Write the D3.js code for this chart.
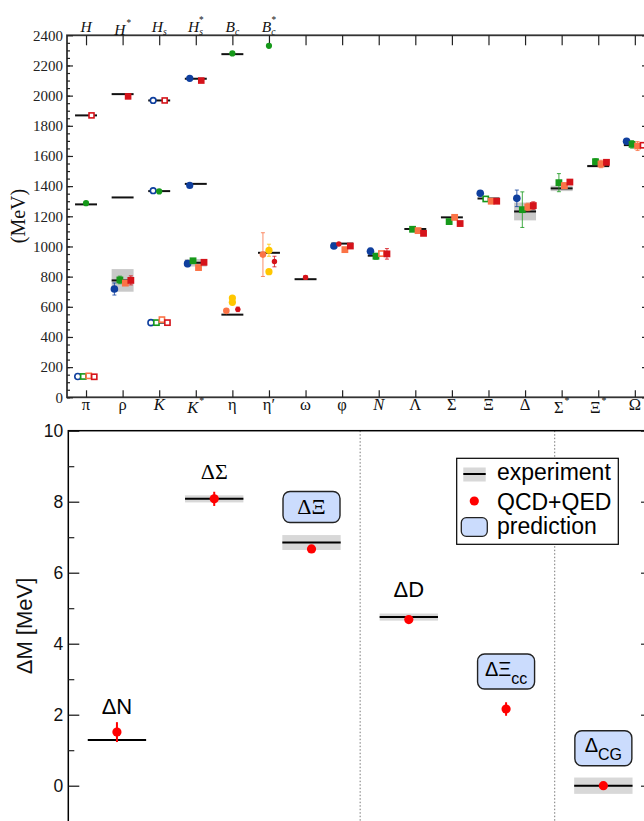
<!DOCTYPE html>
<html>
<head>
<meta charset="utf-8">
<script src="https://cdn.jsdelivr.net/npm/d3@7"></script>
<style>
body { margin: 0; background: #fff; }
svg { display: block; }
</style>
</head>
<body>
<svg id="chart" width="644" height="821"></svg>
<script>
// ---------- top panel: hadron spectrum ----------
const lightLabels = ["π", "ρ", "K", "K*", "η", "η′", "ω", "φ", "N", "Λ", "Σ", "Ξ", "Δ", "Σ*", "Ξ*", "Ω"];
const heavyLabels = ["H", "H*", "Hs", "Hs*", "Bc", "Bc*"];
const massTicks = d3.range(0, 2401, 200);

// experimental masses (MeV) and half widths shown as grey bands
const expMass = [138, 775, 495, 892, 548, 958, 783, 1019, 939, 1116, 1193, 1318, 1232, 1385, 1533, 1672];
const expWidth = [0, 75, 0, 25, 0, 0, 0, 0, 0, 0, 0, 0, 59, 18, 8, 0];
// heavy mesons (B-type shifted down by 4000 MeV)
const heavyExp = [[1869, 1279], [2010, 1325], [1968, 1367], [2112, 1415], [2275], []];

// lattice results: [category, mass, error, input]
const blueData = [[0, 138, 0, 1], [1, 718, 40], [2, 495, 0, 1], [3, 886, 20], [7, 1003, 12], [8, 968, 22], [11, 1353, 18], [12, 1319, 55], [15, 1697, 10]];
const greenData = [[0, 138, 0, 1], [1, 778, 25], [2, 495, 0, 1], [3, 905, 0], [8, 935, 20], [9, 1114, 15], [10, 1165, 15], [11, 1315, 0, 1], [12, 1244, 118], [13, 1423, 60], [14, 1562, 20], [15, 1677, 25]];
const orangeData = [[0, 142, 0, 1], [1, 757, 0], [2, 515, 0, 1], [3, 860, 10], [7, 979, 12], [8, 953, 0, 1], [9, 1105, 15], [10, 1193, 15], [11, 1300, 15], [12, 1262, 25], [13, 1403, 20], [14, 1547, 25], [15, 1666, 30]];
const redData = [[0, 136, 0, 1], [1, 775, 30], [2, 495, 0, 1], [3, 895, 0], [7, 1003, 0], [8, 951, 35], [9, 1087, 10], [10, 1152, 0], [11, 1300, 0], [12, 1271, 25], [13, 1427, 15], [14, 1558, 0], [15, 1671, 0, 1]];
// small red points: [category, mass, error, input, column]
const redSmallData = [[4, 583, 15, 0, 1], [5, 900, 35, 0, 1], [6, 795, 12, 0, 0], [7, 1016, 0, 0, -0.6]];
const yellowData = [[4, 658, 0], [4, 630, 0], [5, 975, 40], [5, 833, 0]];
const orangeEtaData = [[4, 573, 8], [5, 946, 145]];
const heavyBlue = [[2, 1968, 0, 1], [2, 1370, 0, 1], [3, 2115, 0], [3, 1405, 0]];
const heavyGreen = [[0, 1287, 10], [2, 1365, 0], [4, 2280, 0], [5, 2330, 0]];
const heavyRed = [[0, 1869, 0, 1], [1, 1995, 0], [2, 1968, 0, 1], [3, 2100, 0]];

// ---------- bottom panel: isospin splittings ----------
const splitNames = ["ΔN", "ΔΣ", "ΔΞ", "ΔD", "ΔΞ", "Δ"];
const splitSubs = ["", "", "", "", "cc", "CG"];
const splitExp = [1.29, 8.08, 6.85, 4.75, null, 0.0];
const splitExpErr = [0, 0.1, 0.21, 0.1, null, 0.23];
const splitLat = [1.51, 8.08, 6.67, 4.68, 2.16, 0.0];
const splitLatErr = [0.28, 0.2, 0.08, 0.1, 0.19, 0.05];
const splitPrediction = [false, false, true, false, true, true];
const splitTicks = [0, 2, 4, 6, 8, 10];
const legendItems = ["experiment", "QCD+QED", "prediction"];

const serif = "'Liberation Serif','DejaVu Serif','Times New Roman',serif";
const sans = "'Liberation Sans',Arial,Helvetica,sans-serif";
const svg = d3.select("#chart");

// ===== top panel =====
const xTop = d3.scaleLinear().domain([-0.52, 15.36]).range([67, 648]);
const yTop = d3.scaleLinear().domain([0, 2400]).range([397.3, 35.3]);
const gT = svg.append("g");

gT.append("rect")
    .attr("x", 67).attr("y", 35.3)
    .attr("width", 581).attr("height", 362)
    .attr("fill", "none").attr("stroke", "#333").attr("stroke-width", 1.8);

function styleAxis(g, font, size) {
    g.select(".domain").remove();
    g.attr("font-family", font).attr("font-size", size).attr("color", "#222");
    g.selectAll("line").attr("stroke-width", 1.2);
    return g;
}

styleAxis(gT.append("g").attr("transform", "translate(67,0)")
    .call(d3.axisLeft(yTop).tickValues(massTicks).tickSize(-6).tickPadding(4).tickFormat(d3.format("d"))), serif, 15);
styleAxis(gT.append("g").attr("transform", "translate(67,0)")
    .call(d3.axisLeft(yTop).tickValues(d3.range(0, 2400, 50)).tickSize(-3).tickFormat("")), serif, 15);
styleAxis(gT.append("g").attr("transform", "translate(648,0)")
    .call(d3.axisRight(yTop).tickValues(massTicks).tickSize(-6).tickFormat("")), serif, 15);
styleAxis(gT.append("g").attr("transform", "translate(0,397.3)")
    .call(d3.axisBottom(xTop).tickValues(d3.range(16)).tickSize(-7).tickFormat("")), serif, 15);
styleAxis(gT.append("g").attr("transform", "translate(0,35.3)")
    .call(d3.axisTop(xTop).tickValues(d3.range(16)).tickSize(-10).tickFormat("")), serif, 15);

// label with optional subscript / star superscript
function addLabel(g, s, x, y, size) {
    const star = s.endsWith("*");
    const core = star ? s.slice(0, -1) : s;
    const hasSub = core.length > 1 && /[a-z]/.test(core[1]);
    const main = hasSub ? core[0] : core;
    const sub = hasSub ? core.slice(1) : "";
    const t = g.append("text")
        .attr("x", x).attr("y", y + (star && !hasSub ? 3 : 0))
        .attr("text-anchor", "middle")
        .attr("font-family", serif).attr("font-size", size).attr("fill", "#111");
    t.append("tspan").text(main).attr("font-style", /[A-Za-z]/.test(main) ? "italic" : "normal");
    if (sub) t.append("tspan").attr("font-size", size * 0.62).attr("font-style", "italic").attr("dy", 3).text(sub);
    if (star) t.append("tspan").attr("font-size", size * 0.6)
        .attr("dy", sub ? -12 : -9).attr("dx", sub ? -4 : 1).text("*");
}

lightLabels.forEach((s, i) => addLabel(gT, s, xTop(i), 410, 16.5));
heavyLabels.forEach((s, i) => addLabel(gT, s, xTop(i), 31.5, 15.5));

// experiment: grey bands and black lines
const expRows = expMass.map((m, i) => ({ i, m, w: expWidth[i] }));
heavyExp.forEach((ms, i) => ms.forEach(m => expRows.push({ i, m, w: 0 })));

gT.selectAll("rect.band")
    .data(expRows.filter(d => d.w > 0))
    .join("rect")
    .attr("class", "band")
    .attr("x", d => xTop(d.i - 0.3))
    .attr("width", d => xTop(d.i + 0.3) - xTop(d.i - 0.3))
    .attr("y", d => yTop(d.m + d.w))
    .attr("height", d => yTop(d.m - d.w) - yTop(d.m + d.w))
    .attr("fill", "#c9c9c9");

gT.selectAll("line.exp")
    .data(expRows)
    .join("line")
    .attr("class", "exp")
    .attr("x1", d => xTop(d.i - 0.3))
    .attr("x2", d => xTop(d.i + 0.3))
    .attr("y1", d => yTop(d.m))
    .attr("y2", d => yTop(d.m))
    .attr("stroke", "#111").attr("stroke-width", 2);

const colWidth = 0.15; // sub-column spacing in category units

function drawSeries(data, color, shape, col, size) {
    const g = gT.append("g");
    data.forEach(([c, m, e = 0, input = 0, sc]) => {
        const cx = xTop(c + (sc !== undefined ? sc : col) * colWidth);
        const cy = yTop(m);
        if (e > 0) {
            g.append("line")
                .attr("x1", cx).attr("x2", cx)
                .attr("y1", yTop(m - e)).attr("y2", yTop(m + e))
                .attr("stroke", color).attr("stroke-width", 1).attr("opacity", 0.8);
            [m - e, m + e].forEach(v => g.append("line")
                .attr("x1", cx - 2).attr("x2", cx + 2)
                .attr("y1", yTop(v)).attr("y2", yTop(v))
                .attr("stroke", color).attr("stroke-width", 1).attr("opacity", 0.8));
        }
        const fill = input ? "#fff" : color;
        if (shape === "circle") {
            g.append("circle")
                .attr("cx", cx).attr("cy", cy)
                .attr("r", input ? size - 0.8 : size)
                .attr("fill", fill).attr("stroke", color).attr("stroke-width", input ? 1.6 : 0);
        } else {
            const h = input ? size - 0.8 : size;
            g.append("rect")
                .attr("x", cx - h).attr("y", cy - h)
                .attr("width", 2 * h).attr("height", 2 * h)
                .attr("fill", fill).attr("stroke", color).attr("stroke-width", input ? 1.6 : 0);
        }
    });
}

const blue = "#0f3f9e", green = "#16991a", orange = "#fb7346", red = "#d5131a", yellow = "#ffc700";

drawSeries(yellowData, yellow, "circle", 0, 3.6);
drawSeries(orangeEtaData, orange, "circle", -1.1, 3.3);
drawSeries(blueData, blue, "circle", -1.5, 3.8);
drawSeries(greenData, green, "square", -0.5, 3.4);
drawSeries(orangeData, orange, "square", 0.5, 3.4);
drawSeries(redData, red, "square", 1.5, 3.4);
drawSeries(redSmallData, red, "circle", 0, 2.7);
drawSeries(heavyBlue, blue, "circle", -1.1, 3.6);
drawSeries(heavyGreen, green, "circle", 0, 3.1);
drawSeries(heavyRed, red, "square", 1.0, 3.3);

gT.append("text")
    .attr("transform", "translate(25,216) rotate(-90)")
    .attr("text-anchor", "middle")
    .attr("font-family", serif).attr("font-size", 20).attr("fill", "#111")
    .text("(MeV)");

// ===== bottom panel =====
const xBot = d3.scaleLinear().domain([-0.5, 5.5]).range([68.3, 652]);
const yBot = d3.scaleLinear().domain([-1, 10]).range([821.2, 430.7]);
const gB = svg.append("g");

// dotted separators
[2.5, 4.5].forEach(v => gB.append("line")
    .attr("x1", xBot(v)).attr("x2", xBot(v))
    .attr("y1", 430.7).attr("y2", 821)
    .attr("stroke", "#777").attr("stroke-width", 1).attr("stroke-dasharray", "1.5,2"));

gB.append("rect")
    .attr("x", 68.3).attr("y", 430.7)
    .attr("width", 583.7).attr("height", 420)
    .attr("fill", "none").attr("stroke", "#000").attr("stroke-width", 1.5);

styleAxis(gB.append("g").attr("transform", "translate(68.3,0)")
    .call(d3.axisLeft(yBot).tickValues(splitTicks).tickSize(-11).tickPadding(5)), sans, 17.5)
    .attr("color", "#111");
styleAxis(gB.append("g").attr("transform", "translate(68.3,0)")
    .call(d3.axisLeft(yBot).tickValues([1, 3, 5, 7, 9]).tickSize(-6).tickFormat("")), sans, 17);
styleAxis(gB.append("g").attr("transform", "translate(652,0)")
    .call(d3.axisRight(yBot).tickValues(splitTicks).tickSize(-11).tickFormat("")), sans, 17);
styleAxis(gB.append("g").attr("transform", "translate(652,0)")
    .call(d3.axisRight(yBot).tickValues([1, 3, 5, 7, 9]).tickSize(-6).tickFormat("")), sans, 17);

gB.append("text")
    .attr("transform", "translate(32,626) rotate(-90)")
    .attr("text-anchor", "middle")
    .attr("font-family", sans).attr("font-size", 22).attr("fill", "#111")
    .text("ΔM [MeV]");

splitNames.forEach((name, i) => {
    const cx = xBot(i);
    const exp = splitExp[i];
    if (exp !== null) {
        const err = splitExpErr[i];
        if (err > 0) {
            gB.append("rect")
                .attr("x", xBot(i - 0.3)).attr("width", xBot(i + 0.3) - xBot(i - 0.3))
                .attr("y", yBot(exp + err)).attr("height", yBot(exp - err) - yBot(exp + err))
                .attr("fill", "#d8d8d8");
        }
        gB.append("line")
            .attr("x1", xBot(i - 0.3)).attr("x2", xBot(i + 0.3))
            .attr("y1", yBot(exp)).attr("y2", yBot(exp))
            .attr("stroke", "#000").attr("stroke-width", 2);
    }
    const v = splitLat[i], e = splitLatErr[i];
    gB.append("line")
        .attr("x1", cx).attr("x2", cx)
        .attr("y1", yBot(v - e)).attr("y2", yBot(v + e))
        .attr("stroke", "#f00").attr("stroke-width", 2);
    gB.append("circle").attr("cx", cx).attr("cy", yBot(v)).attr("r", 4.6).attr("fill", "#f00");

    // label above the entry
    const anchorY = yBot(exp !== null ? exp : v);
    const font = (i === 1 || i === 2) ? serif : sans;
    const sub = splitSubs[i];
    if (splitPrediction[i]) {
        const bh = sub ? 35 : 31;
        const bottom = anchorY - 20;
        gB.append("rect")
            .attr("x", cx - 28.5).attr("y", bottom - bh)
            .attr("width", 57).attr("height", bh)
            .attr("rx", 7)
            .attr("fill", "#cbdcfd").attr("stroke", "#222").attr("stroke-width", 1.4);
        const t = gB.append("text")
            .attr("x", cx).attr("y", bottom - (sub ? 13.5 : 8.5))
            .attr("text-anchor", "middle")
            .attr("font-family", font).attr("font-size", sub ? 20 : 22).attr("fill", "#000");
        t.append("tspan").text(name);
        if (sub) t.append("tspan").attr("dy", 8).attr("font-size", 16).attr("font-family", sans).text(sub);
    } else {
        const labelY = Math.min(anchorY - 20, yBot(v + e) - 8);
        gB.append("text")
            .attr("x", cx).attr("y", labelY)
            .attr("text-anchor", "middle")
            .attr("font-family", font).attr("font-size", 22).attr("fill", "#000")
            .text(name);
    }
});

// legend
const lg = gB.append("g");
lg.append("rect")
    .attr("x", 456.7).attr("y", 458.3).attr("width", 161.6).attr("height", 86)
    .attr("fill", "#fff").attr("stroke", "#000").attr("stroke-width", 1.2);
lg.append("rect").attr("x", 463.3).attr("y", 467.5).attr("width", 22.4).attr("height", 14).attr("fill", "#d8d8d8");
lg.append("line").attr("x1", 463.3).attr("x2", 485.7).attr("y1", 474).attr("y2", 474)
    .attr("stroke", "#000").attr("stroke-width", 2);
lg.append("circle").attr("cx", 474.3).attr("cy", 501).attr("r", 4.6).attr("fill", "#f00");
lg.append("rect").attr("x", 461.3).attr("y", 517.7).attr("width", 26).attr("height", 18.6)
    .attr("rx", 5).attr("fill", "#cbdcfd").attr("stroke", "#222").attr("stroke-width", 1.3);
lg.selectAll("text")
    .data(legendItems)
    .join("text")
    .attr("x", 497)
    .attr("y", (d, i) => [480, 509.5, 533.5][i])
    .attr("font-family", sans).attr("font-size", 23).attr("fill", "#000")
    .text(d => d);
</script>
</body>
</html>
